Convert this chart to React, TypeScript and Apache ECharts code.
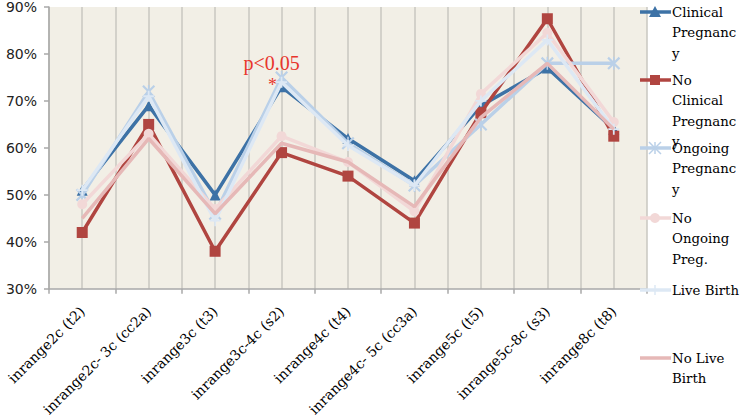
import React, { useEffect, useRef } from "react";
import * as echarts from "echarts";

const categories = [
  "inrange2c (t2)",
  "inrange2c- 3c (cc2a)",
  "inrange3c (t3)",
  "inrange3c-4c (s2)",
  "inrange4c (t4)",
  "inrange4c- 5c (cc3a)",
  "inrange5c (t5)",
  "inrange5c-8c (s3)",
  "inrange8c (t8)",
];

const clinical = [51, 69, 50, 73, 62, 53, 69, 77, 64];
const noClinical = [42, 65, 38, 59, 54, 44, 67.5, 87.5, 62.5];
const ongoing = [50, 72, 46, 75, 61, 52, 65, 78, 78];
const noOngoing = [48, 63, 47, 62.5, 57, 46.5, 71.5, 84.5, 65.5];
const liveBirth = [51, 71, 44.5, 74, 60.5, 52, 70, 83, 64];
const noLiveBirth = [45, 62, 46, 61, 57, 47.5, 66.5, 78, 64];

const yTicks = [30, 40, 50, 60, 70, 80, 90];

const legendNames = [
  "Clinical\nPregnanc\ny",
  "No\nClinical\nPregnanc\ny",
  "Ongoing\nPregnanc\ny",
  "No\nOngoing\nPreg.",
  "Live Birth",
  "No Live\nBirth",
];

const seriesNames = [
  "Clinical Pregnancy",
  "No Clinical Pregnancy",
  "Ongoing Pregnancy",
  "No Ongoing Preg.",
  "Live Birth",
  "No Live Birth",
];

const colors = ["#3d72a6", "#b04540", "#bad0e8", "#f2d8d7", "#dde8f4", "#e6b8b7"];

const ASTERISK =
  "path://M0,1.2 L1.2,0 L10,8.8 L8.8,10 Z M8.8,0 L10,1.2 L1.2,10 L0,8.8 Z M4.4,0 L5.6,0 L5.6,10 L4.4,10 Z";
const PLUS = "path://M4.2,0 L5.8,0 L5.8,10 L4.2,10 Z M0,4.2 L10,4.2 L10,5.8 L0,5.8 Z";

const seriesData = [clinical, noClinical, ongoing, noOngoing, liveBirth, noLiveBirth];
const symbols = ["triangle", "rect", ASTERISK, "circle", PLUS, "none"];
const symbolSizes = [11, 11, 13, 10, 11, 0];

export default function App() {
  const ref = useRef<HTMLDivElement>(null);

  useEffect(() => {
    if (!ref.current) return;
    const chart = echarts.init(ref.current, undefined, { renderer: "svg" });

    const legendY = [12, 80, 148, 218, 290, 358];
    const legendGraphics: any[] = [];
    legendY.forEach((y, i) => {
      legendGraphics.push({
        type: "line",
        shape: { x1: 640, y1: y, x2: 671, y2: y },
        style: { stroke: colors[i], lineWidth: 3.5 },
        z: 100,
      });
      const mx = 655;
      if (i === 0) {
        legendGraphics.push({
          type: "polygon",
          shape: { points: [[mx, y - 6], [mx + 6, y + 5], [mx - 6, y + 5]] },
          style: { fill: colors[i] },
          z: 101,
        });
      } else if (i === 1) {
        legendGraphics.push({
          type: "rect",
          shape: { x: mx - 5, y: y - 5, width: 10, height: 10 },
          style: { fill: colors[i] },
          z: 101,
        });
      } else if (i === 2) {
        legendGraphics.push({
          type: "group",
          z: 101,
          children: [
            { type: "line", shape: { x1: mx - 6, y1: y - 6, x2: mx + 6, y2: y + 6 }, style: { stroke: colors[i], lineWidth: 1.5 } },
            { type: "line", shape: { x1: mx + 6, y1: y - 6, x2: mx - 6, y2: y + 6 }, style: { stroke: colors[i], lineWidth: 1.5 } },
            { type: "line", shape: { x1: mx, y1: y - 6, x2: mx, y2: y + 6 }, style: { stroke: colors[i], lineWidth: 1.5 } },
          ],
        });
      } else if (i === 3) {
        legendGraphics.push({
          type: "circle",
          shape: { cx: mx, cy: y, r: 5 },
          style: { fill: colors[i] },
          z: 101,
        });
      } else if (i === 4) {
        legendGraphics.push({
          type: "line",
          shape: { x1: mx, y1: y - 5, x2: mx, y2: y + 5 },
          style: { stroke: colors[i], lineWidth: 1.5 },
          z: 101,
        });
      }
      legendGraphics.push({
        type: "text",
        x: 672,
        y: y - 10,
        style: {
          text: legendNames[i],
          fontFamily: "DejaVu Serif",
          fontSize: 13.3,
          lineHeight: 20.5,
          fill: "#000",
          textVerticalAlign: "top",
          verticalAlign: "top",
          align: "left",
        },
        z: 102,
      });
    });

    chart.setOption({
      animation: false,
      backgroundColor: "#ffffff",
      grid: {
        left: 49,
        right: 95,
        top: 5,
        bottom: 129,
        show: true,
        backgroundColor: "#f2efe6",
        borderWidth: 0,
      },
      xAxis: [
        {
          type: "category",
          data: categories,
          boundaryGap: true,
          axisLine: { show: true, lineStyle: { color: "#a8a8a8", width: 1.5 } },
          axisTick: { show: true, length: 5, interval: 0, lineStyle: { color: "#a8a8a8", width: 1.5 } },
          axisLabel: {
            interval: 0,
            rotate: 45,
            margin: 20,
            fontFamily: "DejaVu Serif",
            fontSize: 14,
            color: "#000",
          },
          splitLine: { show: false },
          z: 5,
        },
        {
          type: "category",
          data: categories.flatMap((c) => [c, c]),
          boundaryGap: true,
          position: "bottom",
          axisLine: { show: false },
          axisTick: { show: false },
          axisLabel: { show: false },
          splitLine: { show: true, interval: 0, lineStyle: { color: "#c9c7c1", width: 1.5 } },
        },
      ],
      yAxis: {
        type: "value",
        min: yTicks[0],
        max: yTicks[yTicks.length - 1],
        interval: 10,
        axisLine: { show: true, lineStyle: { color: "#a8a8a8", width: 1.5 } },
        axisTick: { show: true, length: 5, lineStyle: { color: "#a8a8a8", width: 1.5 } },
        axisLabel: {
          formatter: "{value}%",
          margin: 12,
          padding: [4, 0, 0, 0],
          fontFamily: "DejaVu Sans",
          fontSize: 14,
          color: "#222",
        },
        splitLine: { show: false },
      },
      series: seriesData.map((d, i) => ({
        name: seriesNames[i],
        type: "line",
        xAxisIndex: 0,
        data: d,
        symbol: symbols[i],
        symbolSize: symbolSizes[i],
        showSymbol: symbols[i] !== "none",
        lineStyle: { color: colors[i], width: 3.5 },
        itemStyle: { color: colors[i] },
        z: 10 + i,
        ...(i === 2
          ? {
              markPoint: {
                symbol: "circle",
                symbolSize: 0,
                data: [
                  {
                    coord: [3, 75],
                    label: {
                      show: true,
                      formatter: "p<0.05",
                      position: "top",
                      distance: 4,
                      offset: [-10, 0],
                      fontFamily: "Liberation Serif",
                      fontSize: 20,
                      color: "#e8352c",
                    },
                  },
                  {
                    coord: [3, 75],
                    label: {
                      show: true,
                      formatter: "*",
                      position: "inside",
                      offset: [-9, 8],
                      fontFamily: "Liberation Serif",
                      fontSize: 18,
                      color: "#e8352c",
                    },
                  },
                ],
              },
            }
          : {}),
      })),
      graphic: legendGraphics,
    });

    return () => chart.dispose();
  }, []);

  return (
    <div style={{ position: "absolute", left: 0, top: 0 }}>
      <div ref={ref} style={{ width: 742, height: 419 }} />
    </div>
  );
}
